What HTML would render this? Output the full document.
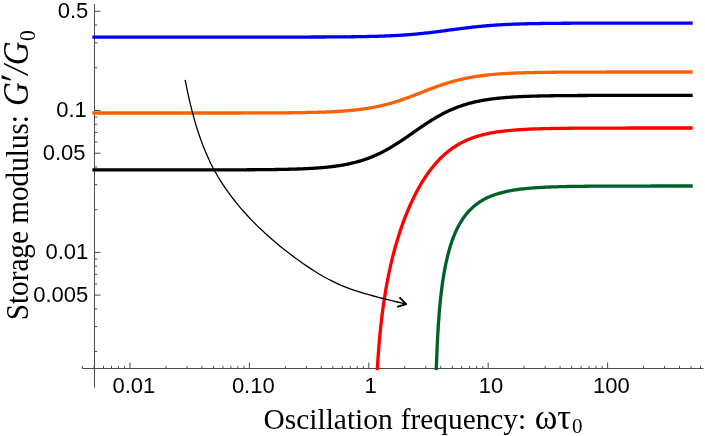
<!DOCTYPE html><html><head><meta charset="utf-8"><style>html,body{margin:0;padding:0;background:#fff}svg{display:block;will-change:transform}text{font-family:"Liberation Sans",sans-serif;fill:#000}.s{font-family:"Liberation Serif",serif}</style></head><body>
<svg width="705" height="436" viewBox="0 0 705 436">
<rect width="705" height="436" fill="#fff"/>
<g stroke="#4a4a4a" stroke-width="1" fill="none">
<line x1="82.3" y1="368.5" x2="703.4" y2="368.5"/>
<line x1="94.5" y1="4.2" x2="94.5" y2="387.7"/>
<line x1="82.49" y1="368.5" x2="82.49" y2="365.9"/>
<line x1="94.06" y1="368.5" x2="94.06" y2="365.9"/>
<line x1="103.51" y1="368.5" x2="103.51" y2="365.9"/>
<line x1="111.50" y1="368.5" x2="111.50" y2="365.9"/>
<line x1="118.43" y1="368.5" x2="118.43" y2="365.9"/>
<line x1="124.54" y1="368.5" x2="124.54" y2="365.9"/>
<line x1="130.00" y1="368.5" x2="130.00" y2="362.5"/>
<line x1="165.94" y1="368.5" x2="165.94" y2="365.9"/>
<line x1="186.97" y1="368.5" x2="186.97" y2="365.9"/>
<line x1="201.89" y1="368.5" x2="201.89" y2="365.9"/>
<line x1="213.46" y1="368.5" x2="213.46" y2="365.9"/>
<line x1="222.91" y1="368.5" x2="222.91" y2="365.9"/>
<line x1="230.90" y1="368.5" x2="230.90" y2="365.9"/>
<line x1="237.83" y1="368.5" x2="237.83" y2="365.9"/>
<line x1="243.94" y1="368.5" x2="243.94" y2="365.9"/>
<line x1="249.40" y1="368.5" x2="249.40" y2="362.5"/>
<line x1="285.34" y1="368.5" x2="285.34" y2="365.9"/>
<line x1="306.37" y1="368.5" x2="306.37" y2="365.9"/>
<line x1="321.29" y1="368.5" x2="321.29" y2="365.9"/>
<line x1="332.86" y1="368.5" x2="332.86" y2="365.9"/>
<line x1="342.31" y1="368.5" x2="342.31" y2="365.9"/>
<line x1="350.30" y1="368.5" x2="350.30" y2="365.9"/>
<line x1="357.23" y1="368.5" x2="357.23" y2="365.9"/>
<line x1="363.34" y1="368.5" x2="363.34" y2="365.9"/>
<line x1="368.80" y1="368.5" x2="368.80" y2="362.5"/>
<line x1="404.74" y1="368.5" x2="404.74" y2="365.9"/>
<line x1="425.77" y1="368.5" x2="425.77" y2="365.9"/>
<line x1="440.69" y1="368.5" x2="440.69" y2="365.9"/>
<line x1="452.26" y1="368.5" x2="452.26" y2="365.9"/>
<line x1="461.71" y1="368.5" x2="461.71" y2="365.9"/>
<line x1="469.70" y1="368.5" x2="469.70" y2="365.9"/>
<line x1="476.63" y1="368.5" x2="476.63" y2="365.9"/>
<line x1="482.74" y1="368.5" x2="482.74" y2="365.9"/>
<line x1="488.20" y1="368.5" x2="488.20" y2="362.5"/>
<line x1="524.14" y1="368.5" x2="524.14" y2="365.9"/>
<line x1="545.17" y1="368.5" x2="545.17" y2="365.9"/>
<line x1="560.09" y1="368.5" x2="560.09" y2="365.9"/>
<line x1="571.66" y1="368.5" x2="571.66" y2="365.9"/>
<line x1="581.11" y1="368.5" x2="581.11" y2="365.9"/>
<line x1="589.10" y1="368.5" x2="589.10" y2="365.9"/>
<line x1="596.03" y1="368.5" x2="596.03" y2="365.9"/>
<line x1="602.14" y1="368.5" x2="602.14" y2="365.9"/>
<line x1="607.60" y1="368.5" x2="607.60" y2="362.5"/>
<line x1="643.54" y1="368.5" x2="643.54" y2="365.9"/>
<line x1="664.57" y1="368.5" x2="664.57" y2="365.9"/>
<line x1="679.49" y1="368.5" x2="679.49" y2="365.9"/>
<line x1="691.06" y1="368.5" x2="691.06" y2="365.9"/>
<line x1="700.51" y1="368.5" x2="700.51" y2="365.9"/>
<line x1="94.5" y1="351.58" x2="97.3" y2="351.58"/>
<line x1="94.5" y1="326.60" x2="97.3" y2="326.60"/>
<line x1="94.5" y1="308.87" x2="97.3" y2="308.87"/>
<line x1="94.5" y1="295.12" x2="100.5" y2="295.12"/>
<line x1="94.5" y1="283.88" x2="97.3" y2="283.88"/>
<line x1="94.5" y1="274.38" x2="97.3" y2="274.38"/>
<line x1="94.5" y1="266.15" x2="97.3" y2="266.15"/>
<line x1="94.5" y1="258.89" x2="97.3" y2="258.89"/>
<line x1="94.5" y1="252.40" x2="100.5" y2="252.40"/>
<line x1="94.5" y1="209.68" x2="97.3" y2="209.68"/>
<line x1="94.5" y1="184.70" x2="97.3" y2="184.70"/>
<line x1="94.5" y1="166.97" x2="97.3" y2="166.97"/>
<line x1="94.5" y1="153.22" x2="100.5" y2="153.22"/>
<line x1="94.5" y1="141.98" x2="97.3" y2="141.98"/>
<line x1="94.5" y1="132.48" x2="97.3" y2="132.48"/>
<line x1="94.5" y1="124.25" x2="97.3" y2="124.25"/>
<line x1="94.5" y1="116.99" x2="97.3" y2="116.99"/>
<line x1="94.5" y1="110.50" x2="100.5" y2="110.50"/>
<line x1="94.5" y1="67.78" x2="97.3" y2="67.78"/>
<line x1="94.5" y1="42.80" x2="97.3" y2="42.80"/>
<line x1="94.5" y1="25.07" x2="97.3" y2="25.07"/>
<line x1="94.5" y1="11.32" x2="100.5" y2="11.32"/>
</g>
<path d="M94.06,37.09 L95.05,37.09 L96.05,37.09 L97.04,37.09 L98.04,37.09 L99.03,37.09 L100.03,37.09 L101.02,37.09 L102.02,37.09 L103.01,37.09 L104.01,37.09 L105.00,37.09 L106.00,37.09 L106.99,37.09 L107.99,37.09 L108.98,37.09 L109.98,37.09 L110.97,37.09 L111.97,37.09 L112.96,37.09 L113.96,37.09 L114.95,37.09 L115.95,37.09 L116.94,37.09 L117.94,37.09 L118.93,37.09 L119.93,37.09 L120.92,37.09 L121.92,37.09 L122.91,37.09 L123.91,37.09 L124.90,37.09 L125.90,37.09 L126.89,37.09 L127.89,37.09 L128.88,37.09 L129.88,37.09 L130.87,37.09 L131.87,37.09 L132.86,37.09 L133.86,37.09 L134.85,37.09 L135.85,37.09 L136.84,37.09 L137.84,37.09 L138.83,37.09 L139.83,37.09 L140.82,37.09 L141.82,37.09 L142.81,37.09 L143.81,37.09 L144.80,37.09 L145.80,37.09 L146.79,37.09 L147.79,37.09 L148.78,37.09 L149.78,37.09 L150.77,37.09 L151.77,37.09 L152.76,37.09 L153.76,37.09 L154.75,37.09 L155.75,37.09 L156.74,37.09 L157.74,37.09 L158.73,37.09 L159.73,37.09 L160.72,37.09 L161.72,37.09 L162.71,37.09 L163.71,37.09 L164.70,37.09 L165.70,37.09 L166.69,37.09 L167.69,37.09 L168.68,37.09 L169.68,37.09 L170.67,37.09 L171.67,37.09 L172.66,37.09 L173.66,37.09 L174.65,37.09 L175.65,37.09 L176.64,37.09 L177.64,37.09 L178.63,37.09 L179.63,37.09 L180.62,37.09 L181.62,37.09 L182.61,37.09 L183.61,37.09 L184.60,37.09 L185.60,37.09 L186.59,37.09 L187.59,37.09 L188.58,37.09 L189.58,37.09 L190.57,37.09 L191.57,37.09 L192.56,37.09 L193.56,37.09 L194.55,37.09 L195.55,37.09 L196.54,37.09 L197.54,37.09 L198.53,37.09 L199.53,37.09 L200.52,37.09 L201.52,37.09 L202.51,37.09 L203.51,37.09 L204.50,37.09 L205.50,37.09 L206.49,37.09 L207.49,37.09 L208.48,37.09 L209.48,37.09 L210.47,37.09 L211.47,37.09 L212.46,37.09 L213.46,37.09 L214.45,37.09 L215.45,37.09 L216.44,37.09 L217.44,37.09 L218.43,37.09 L219.43,37.09 L220.42,37.09 L221.42,37.09 L222.41,37.09 L223.41,37.09 L224.40,37.09 L225.40,37.09 L226.39,37.09 L227.39,37.09 L228.38,37.09 L229.38,37.09 L230.37,37.09 L231.37,37.09 L232.36,37.09 L233.36,37.09 L234.35,37.09 L235.35,37.09 L236.34,37.09 L237.34,37.09 L238.33,37.09 L239.33,37.09 L240.32,37.09 L241.32,37.09 L242.31,37.09 L243.31,37.09 L244.30,37.09 L245.30,37.09 L246.29,37.09 L247.29,37.09 L248.28,37.09 L249.28,37.08 L250.27,37.08 L251.27,37.08 L252.26,37.08 L253.26,37.08 L254.25,37.08 L255.25,37.08 L256.24,37.08 L257.24,37.08 L258.23,37.08 L259.23,37.08 L260.22,37.08 L261.22,37.08 L262.21,37.08 L263.21,37.08 L264.20,37.08 L265.20,37.08 L266.19,37.08 L267.19,37.08 L268.18,37.08 L269.18,37.08 L270.17,37.08 L271.17,37.08 L272.16,37.08 L273.16,37.08 L274.15,37.07 L275.15,37.07 L276.14,37.07 L277.14,37.07 L278.13,37.07 L279.13,37.07 L280.12,37.07 L281.12,37.07 L282.11,37.07 L283.11,37.07 L284.10,37.07 L285.10,37.07 L286.09,37.07 L287.09,37.06 L288.08,37.06 L289.08,37.06 L290.07,37.06 L291.07,37.06 L292.06,37.06 L293.06,37.06 L294.05,37.06 L295.05,37.05 L296.04,37.05 L297.04,37.05 L298.03,37.05 L299.03,37.05 L300.02,37.05 L301.02,37.05 L302.01,37.04 L303.01,37.04 L304.00,37.04 L305.00,37.04 L305.99,37.04 L306.99,37.03 L307.98,37.03 L308.98,37.03 L309.97,37.03 L310.97,37.02 L311.96,37.02 L312.96,37.02 L313.95,37.02 L314.95,37.01 L315.94,37.01 L316.94,37.01 L317.93,37.00 L318.93,37.00 L319.92,37.00 L320.92,36.99 L321.91,36.99 L322.91,36.98 L323.90,36.98 L324.90,36.98 L325.89,36.97 L326.89,36.97 L327.88,36.96 L328.88,36.96 L329.87,36.95 L330.87,36.95 L331.86,36.94 L332.86,36.94 L333.85,36.93 L334.85,36.92 L335.84,36.92 L336.84,36.91 L337.83,36.90 L338.83,36.90 L339.82,36.89 L340.82,36.88 L341.81,36.87 L342.81,36.86 L343.80,36.86 L344.80,36.85 L345.79,36.84 L346.79,36.83 L347.78,36.82 L348.78,36.81 L349.77,36.80 L350.77,36.78 L351.76,36.77 L352.76,36.76 L353.75,36.75 L354.75,36.74 L355.74,36.72 L356.74,36.71 L357.73,36.69 L358.73,36.68 L359.72,36.66 L360.72,36.65 L361.71,36.63 L362.71,36.61 L363.70,36.59 L364.70,36.57 L365.69,36.56 L366.69,36.54 L367.68,36.51 L368.68,36.49 L369.67,36.47 L370.67,36.45 L371.66,36.42 L372.66,36.40 L373.65,36.37 L374.65,36.35 L375.64,36.32 L376.64,36.29 L377.63,36.26 L378.63,36.23 L379.62,36.20 L380.62,36.17 L381.61,36.13 L382.61,36.10 L383.60,36.06 L384.60,36.02 L385.59,35.99 L386.59,35.95 L387.58,35.90 L388.58,35.86 L389.57,35.82 L390.57,35.77 L391.56,35.73 L392.56,35.68 L393.55,35.63 L394.55,35.58 L395.54,35.53 L396.54,35.47 L397.53,35.42 L398.53,35.36 L399.52,35.30 L400.52,35.24 L401.51,35.18 L402.51,35.11 L403.50,35.05 L404.50,34.98 L405.49,34.91 L406.49,34.84 L407.48,34.76 L408.48,34.69 L409.47,34.61 L410.47,34.53 L411.46,34.45 L412.46,34.37 L413.45,34.28 L414.45,34.20 L415.44,34.11 L416.44,34.02 L417.43,33.92 L418.43,33.83 L419.42,33.73 L420.42,33.63 L421.41,33.53 L422.41,33.43 L423.40,33.32 L424.40,33.22 L425.39,33.11 L426.39,33.00 L427.38,32.89 L428.38,32.77 L429.37,32.66 L430.37,32.54 L431.36,32.42 L432.36,32.30 L433.35,32.18 L434.35,32.06 L435.34,31.93 L436.34,31.81 L437.33,31.68 L438.33,31.55 L439.32,31.42 L440.32,31.29 L441.31,31.16 L442.31,31.03 L443.30,30.90 L444.30,30.77 L445.29,30.63 L446.29,30.50 L447.28,30.37 L448.28,30.23 L449.27,30.10 L450.27,29.97 L451.26,29.83 L452.26,29.70 L453.25,29.56 L454.25,29.43 L455.24,29.30 L456.24,29.17 L457.23,29.03 L458.23,28.90 L459.22,28.77 L460.22,28.65 L461.21,28.52 L462.21,28.39 L463.20,28.27 L464.20,28.14 L465.19,28.02 L466.19,27.90 L467.18,27.78 L468.18,27.66 L469.17,27.54 L470.17,27.42 L471.16,27.31 L472.16,27.20 L473.15,27.09 L474.15,26.98 L475.14,26.87 L476.14,26.77 L477.13,26.67 L478.13,26.56 L479.12,26.47 L480.12,26.37 L481.11,26.27 L482.11,26.18 L483.10,26.09 L484.10,26.00 L485.09,25.91 L486.09,25.83 L487.08,25.74 L488.08,25.66 L489.07,25.58 L490.07,25.51 L491.06,25.43 L492.06,25.36 L493.05,25.28 L494.05,25.22 L495.04,25.15 L496.04,25.08 L497.03,25.02 L498.03,24.95 L499.02,24.89 L500.02,24.83 L501.01,24.78 L502.01,24.72 L503.00,24.67 L504.00,24.61 L504.99,24.56 L505.99,24.51 L506.98,24.46 L507.98,24.42 L508.97,24.37 L509.97,24.33 L510.96,24.29 L511.96,24.25 L512.95,24.21 L513.95,24.17 L514.94,24.13 L515.94,24.09 L516.93,24.06 L517.93,24.02 L518.92,23.99 L519.92,23.96 L520.91,23.93 L521.91,23.90 L522.90,23.87 L523.90,23.84 L524.89,23.82 L525.89,23.79 L526.88,23.77 L527.88,23.74 L528.87,23.72 L529.87,23.70 L530.86,23.68 L531.86,23.65 L532.85,23.63 L533.85,23.61 L534.84,23.60 L535.84,23.58 L536.83,23.56 L537.83,23.54 L538.82,23.53 L539.82,23.51 L540.81,23.50 L541.81,23.48 L542.80,23.47 L543.80,23.45 L544.79,23.44 L545.79,23.43 L546.78,23.42 L547.78,23.40 L548.77,23.39 L549.77,23.38 L550.76,23.37 L551.76,23.36 L552.75,23.35 L553.75,23.34 L554.74,23.33 L555.74,23.32 L556.73,23.32 L557.73,23.31 L558.72,23.30 L559.72,23.29 L560.71,23.29 L561.71,23.28 L562.70,23.27 L563.70,23.26 L564.69,23.26 L565.69,23.25 L566.68,23.25 L567.68,23.24 L568.67,23.24 L569.67,23.23 L570.66,23.23 L571.66,23.22 L572.65,23.22 L573.65,23.21 L574.64,23.21 L575.64,23.20 L576.63,23.20 L577.63,23.20 L578.62,23.19 L579.62,23.19 L580.61,23.18 L581.61,23.18 L582.60,23.18 L583.60,23.18 L584.59,23.17 L585.59,23.17 L586.58,23.17 L587.58,23.16 L588.57,23.16 L589.57,23.16 L590.56,23.16 L591.56,23.15 L592.55,23.15 L593.55,23.15 L594.54,23.15 L595.54,23.15 L596.53,23.14 L597.53,23.14 L598.52,23.14 L599.52,23.14 L600.51,23.14 L601.51,23.14 L602.50,23.13 L603.50,23.13 L604.49,23.13 L605.49,23.13 L606.48,23.13 L607.48,23.13 L608.47,23.13 L609.47,23.13 L610.46,23.12 L611.46,23.12 L612.45,23.12 L613.45,23.12 L614.44,23.12 L615.44,23.12 L616.43,23.12 L617.43,23.12 L618.42,23.12 L619.42,23.12 L620.41,23.12 L621.41,23.12 L622.40,23.11 L623.40,23.11 L624.39,23.11 L625.39,23.11 L626.38,23.11 L627.38,23.11 L628.37,23.11 L629.37,23.11 L630.36,23.11 L631.36,23.11 L632.35,23.11 L633.35,23.11 L634.34,23.11 L635.34,23.11 L636.33,23.11 L637.33,23.11 L638.32,23.11 L639.32,23.11 L640.31,23.11 L641.31,23.11 L642.30,23.10 L643.30,23.10 L644.29,23.10 L645.29,23.10 L646.28,23.10 L647.28,23.10 L648.27,23.10 L649.27,23.10 L650.26,23.10 L651.26,23.10 L652.25,23.10 L653.25,23.10 L654.24,23.10 L655.24,23.10 L656.23,23.10 L657.23,23.10 L658.22,23.10 L659.22,23.10 L660.21,23.10 L661.21,23.10 L662.20,23.10 L663.20,23.10 L664.19,23.10 L665.19,23.10 L666.18,23.10 L667.18,23.10 L668.17,23.10 L669.17,23.10 L670.16,23.10 L671.16,23.10 L672.15,23.10 L673.15,23.10 L674.14,23.10 L675.14,23.10 L676.13,23.10 L677.13,23.10 L678.12,23.10 L679.12,23.10 L680.11,23.10 L681.11,23.10 L682.10,23.10 L683.10,23.10 L684.09,23.10 L685.09,23.10 L686.08,23.10 L687.08,23.10 L688.07,23.10 L689.07,23.10 L690.06,23.10 L691.06,23.10" fill="none" stroke="#0000fa" stroke-width="3.3" stroke-linejoin="round" stroke-linecap="square"/>
<path d="M94.06,113.02 L95.05,113.02 L96.05,113.02 L97.04,113.02 L98.04,113.02 L99.03,113.02 L100.03,113.02 L101.02,113.02 L102.02,113.02 L103.01,113.02 L104.01,113.02 L105.00,113.02 L106.00,113.02 L106.99,113.02 L107.99,113.02 L108.98,113.02 L109.98,113.02 L110.97,113.02 L111.97,113.02 L112.96,113.02 L113.96,113.02 L114.95,113.02 L115.95,113.02 L116.94,113.02 L117.94,113.02 L118.93,113.02 L119.93,113.02 L120.92,113.02 L121.92,113.02 L122.91,113.02 L123.91,113.02 L124.90,113.02 L125.90,113.02 L126.89,113.02 L127.89,113.02 L128.88,113.02 L129.88,113.02 L130.87,113.02 L131.87,113.02 L132.86,113.02 L133.86,113.02 L134.85,113.02 L135.85,113.02 L136.84,113.01 L137.84,113.01 L138.83,113.01 L139.83,113.01 L140.82,113.01 L141.82,113.01 L142.81,113.01 L143.81,113.01 L144.80,113.01 L145.80,113.01 L146.79,113.01 L147.79,113.01 L148.78,113.01 L149.78,113.01 L150.77,113.01 L151.77,113.01 L152.76,113.01 L153.76,113.01 L154.75,113.01 L155.75,113.01 L156.74,113.01 L157.74,113.01 L158.73,113.01 L159.73,113.01 L160.72,113.01 L161.72,113.01 L162.71,113.01 L163.71,113.01 L164.70,113.01 L165.70,113.01 L166.69,113.01 L167.69,113.01 L168.68,113.01 L169.68,113.01 L170.67,113.01 L171.67,113.01 L172.66,113.01 L173.66,113.01 L174.65,113.01 L175.65,113.01 L176.64,113.01 L177.64,113.01 L178.63,113.01 L179.63,113.01 L180.62,113.01 L181.62,113.01 L182.61,113.01 L183.61,113.01 L184.60,113.01 L185.60,113.01 L186.59,113.01 L187.59,113.01 L188.58,113.01 L189.58,113.01 L190.57,113.01 L191.57,113.01 L192.56,113.01 L193.56,113.01 L194.55,113.01 L195.55,113.01 L196.54,113.01 L197.54,113.01 L198.53,113.01 L199.53,113.01 L200.52,113.01 L201.52,113.01 L202.51,113.01 L203.51,113.01 L204.50,113.01 L205.50,113.01 L206.49,113.01 L207.49,113.00 L208.48,113.00 L209.48,113.00 L210.47,113.00 L211.47,113.00 L212.46,113.00 L213.46,113.00 L214.45,113.00 L215.45,113.00 L216.44,113.00 L217.44,113.00 L218.43,113.00 L219.43,113.00 L220.42,113.00 L221.42,113.00 L222.41,113.00 L223.41,113.00 L224.40,112.99 L225.40,112.99 L226.39,112.99 L227.39,112.99 L228.38,112.99 L229.38,112.99 L230.37,112.99 L231.37,112.99 L232.36,112.99 L233.36,112.99 L234.35,112.98 L235.35,112.98 L236.34,112.98 L237.34,112.98 L238.33,112.98 L239.33,112.98 L240.32,112.98 L241.32,112.98 L242.31,112.97 L243.31,112.97 L244.30,112.97 L245.30,112.97 L246.29,112.97 L247.29,112.96 L248.28,112.96 L249.28,112.96 L250.27,112.96 L251.27,112.96 L252.26,112.95 L253.26,112.95 L254.25,112.95 L255.25,112.95 L256.24,112.94 L257.24,112.94 L258.23,112.94 L259.23,112.94 L260.22,112.93 L261.22,112.93 L262.21,112.93 L263.21,112.92 L264.20,112.92 L265.20,112.91 L266.19,112.91 L267.19,112.91 L268.18,112.90 L269.18,112.90 L270.17,112.89 L271.17,112.89 L272.16,112.88 L273.16,112.88 L274.15,112.87 L275.15,112.87 L276.14,112.86 L277.14,112.86 L278.13,112.85 L279.13,112.84 L280.12,112.84 L281.12,112.83 L282.11,112.82 L283.11,112.81 L284.10,112.81 L285.10,112.80 L286.09,112.79 L287.09,112.78 L288.08,112.77 L289.08,112.76 L290.07,112.75 L291.07,112.74 L292.06,112.73 L293.06,112.72 L294.05,112.71 L295.05,112.70 L296.04,112.69 L297.04,112.67 L298.03,112.66 L299.03,112.65 L300.02,112.63 L301.02,112.62 L302.01,112.60 L303.01,112.58 L304.00,112.57 L305.00,112.55 L305.99,112.53 L306.99,112.51 L307.98,112.49 L308.98,112.47 L309.97,112.45 L310.97,112.43 L311.96,112.41 L312.96,112.39 L313.95,112.36 L314.95,112.34 L315.94,112.31 L316.94,112.28 L317.93,112.25 L318.93,112.23 L319.92,112.20 L320.92,112.16 L321.91,112.13 L322.91,112.10 L323.90,112.06 L324.90,112.03 L325.89,111.99 L326.89,111.95 L327.88,111.91 L328.88,111.87 L329.87,111.82 L330.87,111.78 L331.86,111.73 L332.86,111.68 L333.85,111.63 L334.85,111.58 L335.84,111.53 L336.84,111.47 L337.83,111.41 L338.83,111.35 L339.82,111.29 L340.82,111.23 L341.81,111.16 L342.81,111.09 L343.80,111.02 L344.80,110.94 L345.79,110.87 L346.79,110.79 L347.78,110.71 L348.78,110.62 L349.77,110.53 L350.77,110.44 L351.76,110.35 L352.76,110.25 L353.75,110.15 L354.75,110.05 L355.74,109.94 L356.74,109.83 L357.73,109.71 L358.73,109.60 L359.72,109.47 L360.72,109.35 L361.71,109.22 L362.71,109.08 L363.70,108.95 L364.70,108.80 L365.69,108.66 L366.69,108.51 L367.68,108.35 L368.68,108.19 L369.67,108.03 L370.67,107.86 L371.66,107.68 L372.66,107.50 L373.65,107.32 L374.65,107.13 L375.64,106.93 L376.64,106.73 L377.63,106.52 L378.63,106.31 L379.62,106.09 L380.62,105.87 L381.61,105.64 L382.61,105.41 L383.60,105.17 L384.60,104.93 L385.59,104.68 L386.59,104.42 L387.58,104.16 L388.58,103.89 L389.57,103.62 L390.57,103.34 L391.56,103.05 L392.56,102.76 L393.55,102.47 L394.55,102.17 L395.54,101.86 L396.54,101.55 L397.53,101.23 L398.53,100.91 L399.52,100.58 L400.52,100.25 L401.51,99.91 L402.51,99.57 L403.50,99.22 L404.50,98.87 L405.49,98.52 L406.49,98.16 L407.48,97.79 L408.48,97.43 L409.47,97.06 L410.47,96.69 L411.46,96.31 L412.46,95.93 L413.45,95.55 L414.45,95.17 L415.44,94.79 L416.44,94.40 L417.43,94.01 L418.43,93.62 L419.42,93.24 L420.42,92.85 L421.41,92.46 L422.41,92.07 L423.40,91.68 L424.40,91.29 L425.39,90.90 L426.39,90.51 L427.38,90.13 L428.38,89.74 L429.37,89.36 L430.37,88.98 L431.36,88.60 L432.36,88.23 L433.35,87.86 L434.35,87.49 L435.34,87.12 L436.34,86.76 L437.33,86.40 L438.33,86.05 L439.32,85.70 L440.32,85.36 L441.31,85.01 L442.31,84.68 L443.30,84.35 L444.30,84.02 L445.29,83.70 L446.29,83.38 L447.28,83.07 L448.28,82.77 L449.27,82.47 L450.27,82.17 L451.26,81.88 L452.26,81.60 L453.25,81.32 L454.25,81.05 L455.24,80.78 L456.24,80.52 L457.23,80.27 L458.23,80.02 L459.22,79.78 L460.22,79.54 L461.21,79.31 L462.21,79.08 L463.20,78.86 L464.20,78.64 L465.19,78.43 L466.19,78.23 L467.18,78.03 L468.18,77.83 L469.17,77.65 L470.17,77.46 L471.16,77.28 L472.16,77.11 L473.15,76.94 L474.15,76.78 L475.14,76.62 L476.14,76.46 L477.13,76.31 L478.13,76.17 L479.12,76.03 L480.12,75.89 L481.11,75.76 L482.11,75.63 L483.10,75.50 L484.10,75.38 L485.09,75.26 L486.09,75.15 L487.08,75.04 L488.08,74.93 L489.07,74.83 L490.07,74.73 L491.06,74.64 L492.06,74.54 L493.05,74.45 L494.05,74.37 L495.04,74.28 L496.04,74.20 L497.03,74.12 L498.03,74.05 L499.02,73.97 L500.02,73.90 L501.01,73.83 L502.01,73.77 L503.00,73.70 L504.00,73.64 L504.99,73.58 L505.99,73.52 L506.98,73.47 L507.98,73.41 L508.97,73.36 L509.97,73.31 L510.96,73.26 L511.96,73.22 L512.95,73.17 L513.95,73.13 L514.94,73.09 L515.94,73.05 L516.93,73.01 L517.93,72.97 L518.92,72.94 L519.92,72.90 L520.91,72.87 L521.91,72.84 L522.90,72.80 L523.90,72.77 L524.89,72.75 L525.89,72.72 L526.88,72.69 L527.88,72.66 L528.87,72.64 L529.87,72.62 L530.86,72.59 L531.86,72.57 L532.85,72.55 L533.85,72.53 L534.84,72.51 L535.84,72.49 L536.83,72.47 L537.83,72.45 L538.82,72.44 L539.82,72.42 L540.81,72.40 L541.81,72.39 L542.80,72.37 L543.80,72.36 L544.79,72.35 L545.79,72.33 L546.78,72.32 L547.78,72.31 L548.77,72.30 L549.77,72.28 L550.76,72.27 L551.76,72.26 L552.75,72.25 L553.75,72.24 L554.74,72.23 L555.74,72.22 L556.73,72.22 L557.73,72.21 L558.72,72.20 L559.72,72.19 L560.71,72.18 L561.71,72.18 L562.70,72.17 L563.70,72.16 L564.69,72.16 L565.69,72.15 L566.68,72.14 L567.68,72.14 L568.67,72.13 L569.67,72.13 L570.66,72.12 L571.66,72.12 L572.65,72.11 L573.65,72.11 L574.64,72.10 L575.64,72.10 L576.63,72.10 L577.63,72.09 L578.62,72.09 L579.62,72.08 L580.61,72.08 L581.61,72.08 L582.60,72.07 L583.60,72.07 L584.59,72.07 L585.59,72.07 L586.58,72.06 L587.58,72.06 L588.57,72.06 L589.57,72.05 L590.56,72.05 L591.56,72.05 L592.55,72.05 L593.55,72.05 L594.54,72.04 L595.54,72.04 L596.53,72.04 L597.53,72.04 L598.52,72.04 L599.52,72.03 L600.51,72.03 L601.51,72.03 L602.50,72.03 L603.50,72.03 L604.49,72.03 L605.49,72.03 L606.48,72.02 L607.48,72.02 L608.47,72.02 L609.47,72.02 L610.46,72.02 L611.46,72.02 L612.45,72.02 L613.45,72.02 L614.44,72.02 L615.44,72.01 L616.43,72.01 L617.43,72.01 L618.42,72.01 L619.42,72.01 L620.41,72.01 L621.41,72.01 L622.40,72.01 L623.40,72.01 L624.39,72.01 L625.39,72.01 L626.38,72.01 L627.38,72.01 L628.37,72.01 L629.37,72.01 L630.36,72.00 L631.36,72.00 L632.35,72.00 L633.35,72.00 L634.34,72.00 L635.34,72.00 L636.33,72.00 L637.33,72.00 L638.32,72.00 L639.32,72.00 L640.31,72.00 L641.31,72.00 L642.30,72.00 L643.30,72.00 L644.29,72.00 L645.29,72.00 L646.28,72.00 L647.28,72.00 L648.27,72.00 L649.27,72.00 L650.26,72.00 L651.26,72.00 L652.25,72.00 L653.25,72.00 L654.24,72.00 L655.24,72.00 L656.23,72.00 L657.23,72.00 L658.22,72.00 L659.22,72.00 L660.21,72.00 L661.21,72.00 L662.20,72.00 L663.20,72.00 L664.19,72.00 L665.19,72.00 L666.18,71.99 L667.18,71.99 L668.17,71.99 L669.17,71.99 L670.16,71.99 L671.16,71.99 L672.15,71.99 L673.15,71.99 L674.14,71.99 L675.14,71.99 L676.13,71.99 L677.13,71.99 L678.12,71.99 L679.12,71.99 L680.11,71.99 L681.11,71.99 L682.10,71.99 L683.10,71.99 L684.09,71.99 L685.09,71.99 L686.08,71.99 L687.08,71.99 L688.07,71.99 L689.07,71.99 L690.06,71.99 L691.06,71.99" fill="none" stroke="#ff6000" stroke-width="3.3" stroke-linejoin="round" stroke-linecap="square"/>
<path d="M94.06,169.90 L95.05,169.90 L96.05,169.90 L97.04,169.90 L98.04,169.90 L99.03,169.90 L100.03,169.90 L101.02,169.90 L102.02,169.90 L103.01,169.90 L104.01,169.90 L105.00,169.90 L106.00,169.90 L106.99,169.90 L107.99,169.90 L108.98,169.90 L109.98,169.90 L110.97,169.90 L111.97,169.90 L112.96,169.90 L113.96,169.90 L114.95,169.90 L115.95,169.90 L116.94,169.90 L117.94,169.90 L118.93,169.90 L119.93,169.90 L120.92,169.90 L121.92,169.90 L122.91,169.90 L123.91,169.90 L124.90,169.90 L125.90,169.90 L126.89,169.90 L127.89,169.90 L128.88,169.90 L129.88,169.90 L130.87,169.90 L131.87,169.90 L132.86,169.90 L133.86,169.90 L134.85,169.90 L135.85,169.90 L136.84,169.90 L137.84,169.90 L138.83,169.90 L139.83,169.90 L140.82,169.90 L141.82,169.90 L142.81,169.90 L143.81,169.90 L144.80,169.90 L145.80,169.90 L146.79,169.90 L147.79,169.90 L148.78,169.90 L149.78,169.90 L150.77,169.90 L151.77,169.90 L152.76,169.90 L153.76,169.90 L154.75,169.90 L155.75,169.90 L156.74,169.90 L157.74,169.90 L158.73,169.90 L159.73,169.90 L160.72,169.90 L161.72,169.90 L162.71,169.90 L163.71,169.90 L164.70,169.90 L165.70,169.90 L166.69,169.90 L167.69,169.90 L168.68,169.90 L169.68,169.90 L170.67,169.90 L171.67,169.89 L172.66,169.89 L173.66,169.89 L174.65,169.89 L175.65,169.89 L176.64,169.89 L177.64,169.89 L178.63,169.89 L179.63,169.89 L180.62,169.89 L181.62,169.89 L182.61,169.89 L183.61,169.89 L184.60,169.89 L185.60,169.89 L186.59,169.89 L187.59,169.89 L188.58,169.89 L189.58,169.89 L190.57,169.89 L191.57,169.89 L192.56,169.89 L193.56,169.89 L194.55,169.88 L195.55,169.88 L196.54,169.88 L197.54,169.88 L198.53,169.88 L199.53,169.88 L200.52,169.88 L201.52,169.88 L202.51,169.88 L203.51,169.88 L204.50,169.88 L205.50,169.88 L206.49,169.87 L207.49,169.87 L208.48,169.87 L209.48,169.87 L210.47,169.87 L211.47,169.87 L212.46,169.87 L213.46,169.87 L214.45,169.86 L215.45,169.86 L216.44,169.86 L217.44,169.86 L218.43,169.86 L219.43,169.86 L220.42,169.86 L221.42,169.85 L222.41,169.85 L223.41,169.85 L224.40,169.85 L225.40,169.85 L226.39,169.84 L227.39,169.84 L228.38,169.84 L229.38,169.84 L230.37,169.83 L231.37,169.83 L232.36,169.83 L233.36,169.83 L234.35,169.82 L235.35,169.82 L236.34,169.82 L237.34,169.81 L238.33,169.81 L239.33,169.81 L240.32,169.80 L241.32,169.80 L242.31,169.79 L243.31,169.79 L244.30,169.78 L245.30,169.78 L246.29,169.78 L247.29,169.77 L248.28,169.77 L249.28,169.76 L250.27,169.75 L251.27,169.75 L252.26,169.74 L253.26,169.74 L254.25,169.73 L255.25,169.72 L256.24,169.72 L257.24,169.71 L258.23,169.70 L259.23,169.69 L260.22,169.69 L261.22,169.68 L262.21,169.67 L263.21,169.66 L264.20,169.65 L265.20,169.64 L266.19,169.63 L267.19,169.62 L268.18,169.61 L269.18,169.60 L270.17,169.58 L271.17,169.57 L272.16,169.56 L273.16,169.55 L274.15,169.53 L275.15,169.52 L276.14,169.50 L277.14,169.49 L278.13,169.47 L279.13,169.45 L280.12,169.44 L281.12,169.42 L282.11,169.40 L283.11,169.38 L284.10,169.36 L285.10,169.34 L286.09,169.32 L287.09,169.29 L288.08,169.27 L289.08,169.25 L290.07,169.22 L291.07,169.20 L292.06,169.17 L293.06,169.14 L294.05,169.11 L295.05,169.08 L296.04,169.05 L297.04,169.01 L298.03,168.98 L299.03,168.94 L300.02,168.91 L301.02,168.87 L302.01,168.83 L303.01,168.79 L304.00,168.75 L305.00,168.70 L305.99,168.66 L306.99,168.61 L307.98,168.56 L308.98,168.51 L309.97,168.45 L310.97,168.40 L311.96,168.34 L312.96,168.28 L313.95,168.22 L314.95,168.15 L315.94,168.09 L316.94,168.02 L317.93,167.95 L318.93,167.87 L319.92,167.80 L320.92,167.72 L321.91,167.63 L322.91,167.55 L323.90,167.46 L324.90,167.37 L325.89,167.27 L326.89,167.17 L327.88,167.07 L328.88,166.97 L329.87,166.86 L330.87,166.74 L331.86,166.62 L332.86,166.50 L333.85,166.38 L334.85,166.25 L335.84,166.11 L336.84,165.97 L337.83,165.83 L338.83,165.68 L339.82,165.52 L340.82,165.36 L341.81,165.20 L342.81,165.03 L343.80,164.85 L344.80,164.67 L345.79,164.48 L346.79,164.29 L347.78,164.08 L348.78,163.88 L349.77,163.66 L350.77,163.44 L351.76,163.21 L352.76,162.98 L353.75,162.74 L354.75,162.49 L355.74,162.23 L356.74,161.97 L357.73,161.69 L358.73,161.41 L359.72,161.12 L360.72,160.82 L361.71,160.52 L362.71,160.20 L363.70,159.88 L364.70,159.55 L365.69,159.20 L366.69,158.85 L367.68,158.49 L368.68,158.12 L369.67,157.74 L370.67,157.35 L371.66,156.96 L372.66,156.55 L373.65,156.13 L374.65,155.70 L375.64,155.26 L376.64,154.81 L377.63,154.36 L378.63,153.89 L379.62,153.41 L380.62,152.92 L381.61,152.43 L382.61,151.92 L383.60,151.40 L384.60,150.87 L385.59,150.34 L386.59,149.79 L387.58,149.24 L388.58,148.67 L389.57,148.10 L390.57,147.52 L391.56,146.93 L392.56,146.33 L393.55,145.72 L394.55,145.11 L395.54,144.49 L396.54,143.86 L397.53,143.22 L398.53,142.58 L399.52,141.93 L400.52,141.27 L401.51,140.61 L402.51,139.95 L403.50,139.28 L404.50,138.60 L405.49,137.92 L406.49,137.24 L407.48,136.56 L408.48,135.87 L409.47,135.18 L410.47,134.49 L411.46,133.79 L412.46,133.10 L413.45,132.41 L414.45,131.71 L415.44,131.02 L416.44,130.33 L417.43,129.64 L418.43,128.95 L419.42,128.26 L420.42,127.58 L421.41,126.90 L422.41,126.22 L423.40,125.55 L424.40,124.89 L425.39,124.22 L426.39,123.57 L427.38,122.92 L428.38,122.27 L429.37,121.63 L430.37,121.00 L431.36,120.38 L432.36,119.76 L433.35,119.15 L434.35,118.55 L435.34,117.96 L436.34,117.37 L437.33,116.80 L438.33,116.23 L439.32,115.67 L440.32,115.12 L441.31,114.58 L442.31,114.05 L443.30,113.53 L444.30,113.02 L445.29,112.52 L446.29,112.03 L447.28,111.55 L448.28,111.08 L449.27,110.62 L450.27,110.17 L451.26,109.72 L452.26,109.29 L453.25,108.87 L454.25,108.46 L455.24,108.06 L456.24,107.67 L457.23,107.28 L458.23,106.91 L459.22,106.55 L460.22,106.19 L461.21,105.85 L462.21,105.51 L463.20,105.19 L464.20,104.87 L465.19,104.56 L466.19,104.26 L467.18,103.97 L468.18,103.68 L469.17,103.41 L470.17,103.14 L471.16,102.88 L472.16,102.63 L473.15,102.38 L474.15,102.15 L475.14,101.92 L476.14,101.69 L477.13,101.48 L478.13,101.27 L479.12,101.06 L480.12,100.87 L481.11,100.68 L482.11,100.49 L483.10,100.31 L484.10,100.14 L485.09,99.97 L486.09,99.81 L487.08,99.66 L488.08,99.51 L489.07,99.36 L490.07,99.22 L491.06,99.08 L492.06,98.95 L493.05,98.82 L494.05,98.70 L495.04,98.58 L496.04,98.47 L497.03,98.36 L498.03,98.25 L499.02,98.14 L500.02,98.04 L501.01,97.95 L502.01,97.86 L503.00,97.77 L504.00,97.68 L504.99,97.60 L505.99,97.51 L506.98,97.44 L507.98,97.36 L508.97,97.29 L509.97,97.22 L510.96,97.15 L511.96,97.09 L512.95,97.02 L513.95,96.96 L514.94,96.91 L515.94,96.85 L516.93,96.80 L517.93,96.74 L518.92,96.69 L519.92,96.65 L520.91,96.60 L521.91,96.55 L522.90,96.51 L523.90,96.47 L524.89,96.43 L525.89,96.39 L526.88,96.35 L527.88,96.32 L528.87,96.28 L529.87,96.25 L530.86,96.22 L531.86,96.19 L532.85,96.16 L533.85,96.13 L534.84,96.10 L535.84,96.07 L536.83,96.05 L537.83,96.02 L538.82,96.00 L539.82,95.98 L540.81,95.95 L541.81,95.93 L542.80,95.91 L543.80,95.89 L544.79,95.87 L545.79,95.85 L546.78,95.84 L547.78,95.82 L548.77,95.80 L549.77,95.79 L550.76,95.77 L551.76,95.76 L552.75,95.74 L553.75,95.73 L554.74,95.72 L555.74,95.70 L556.73,95.69 L557.73,95.68 L558.72,95.67 L559.72,95.66 L560.71,95.65 L561.71,95.64 L562.70,95.63 L563.70,95.62 L564.69,95.61 L565.69,95.60 L566.68,95.59 L567.68,95.59 L568.67,95.58 L569.67,95.57 L570.66,95.56 L571.66,95.56 L572.65,95.55 L573.65,95.54 L574.64,95.54 L575.64,95.53 L576.63,95.53 L577.63,95.52 L578.62,95.52 L579.62,95.51 L580.61,95.51 L581.61,95.50 L582.60,95.50 L583.60,95.49 L584.59,95.49 L585.59,95.49 L586.58,95.48 L587.58,95.48 L588.57,95.47 L589.57,95.47 L590.56,95.47 L591.56,95.46 L592.55,95.46 L593.55,95.46 L594.54,95.46 L595.54,95.45 L596.53,95.45 L597.53,95.45 L598.52,95.45 L599.52,95.44 L600.51,95.44 L601.51,95.44 L602.50,95.44 L603.50,95.43 L604.49,95.43 L605.49,95.43 L606.48,95.43 L607.48,95.43 L608.47,95.43 L609.47,95.42 L610.46,95.42 L611.46,95.42 L612.45,95.42 L613.45,95.42 L614.44,95.42 L615.44,95.42 L616.43,95.41 L617.43,95.41 L618.42,95.41 L619.42,95.41 L620.41,95.41 L621.41,95.41 L622.40,95.41 L623.40,95.41 L624.39,95.41 L625.39,95.41 L626.38,95.40 L627.38,95.40 L628.37,95.40 L629.37,95.40 L630.36,95.40 L631.36,95.40 L632.35,95.40 L633.35,95.40 L634.34,95.40 L635.34,95.40 L636.33,95.40 L637.33,95.40 L638.32,95.40 L639.32,95.40 L640.31,95.40 L641.31,95.40 L642.30,95.39 L643.30,95.39 L644.29,95.39 L645.29,95.39 L646.28,95.39 L647.28,95.39 L648.27,95.39 L649.27,95.39 L650.26,95.39 L651.26,95.39 L652.25,95.39 L653.25,95.39 L654.24,95.39 L655.24,95.39 L656.23,95.39 L657.23,95.39 L658.22,95.39 L659.22,95.39 L660.21,95.39 L661.21,95.39 L662.20,95.39 L663.20,95.39 L664.19,95.39 L665.19,95.39 L666.18,95.39 L667.18,95.39 L668.17,95.39 L669.17,95.39 L670.16,95.39 L671.16,95.39 L672.15,95.39 L673.15,95.39 L674.14,95.39 L675.14,95.39 L676.13,95.39 L677.13,95.39 L678.12,95.39 L679.12,95.39 L680.11,95.39 L681.11,95.39 L682.10,95.39 L683.10,95.39 L684.09,95.39 L685.09,95.39 L686.08,95.39 L687.08,95.39 L688.07,95.39 L689.07,95.39 L690.06,95.39 L691.06,95.39" fill="none" stroke="#000000" stroke-width="3.3" stroke-linejoin="round" stroke-linecap="square"/>
<path d="M377.35,368.50 L377.63,363.95 L378.63,349.79 L379.62,338.00 L380.62,327.87 L381.61,318.95 L382.61,310.98 L383.60,303.75 L384.60,297.13 L385.59,291.01 L386.59,285.32 L387.58,279.99 L388.58,274.97 L389.57,270.24 L390.57,265.75 L391.56,261.47 L392.56,257.39 L393.55,253.49 L394.55,249.75 L395.54,246.16 L396.54,242.70 L397.53,239.37 L398.53,236.16 L399.52,233.05 L400.52,230.04 L401.51,227.13 L402.51,224.31 L403.50,221.58 L404.50,218.93 L405.49,216.35 L406.49,213.84 L407.48,211.41 L408.48,209.04 L409.47,206.73 L410.47,204.49 L411.46,202.31 L412.46,200.18 L413.45,198.11 L414.45,196.09 L415.44,194.12 L416.44,192.21 L417.43,190.34 L418.43,188.52 L419.42,186.74 L420.42,185.02 L421.41,183.33 L422.41,181.69 L423.40,180.09 L424.40,178.53 L425.39,177.01 L426.39,175.53 L427.38,174.09 L428.38,172.68 L429.37,171.31 L430.37,169.98 L431.36,168.68 L432.36,167.42 L433.35,166.19 L434.35,164.99 L435.34,163.83 L436.34,162.70 L437.33,161.59 L438.33,160.52 L439.32,159.48 L440.32,158.47 L441.31,157.48 L442.31,156.53 L443.30,155.60 L444.30,154.70 L445.29,153.82 L446.29,152.97 L447.28,152.14 L448.28,151.34 L449.27,150.56 L450.27,149.81 L451.26,149.08 L452.26,148.37 L453.25,147.68 L454.25,147.01 L455.24,146.36 L456.24,145.74 L457.23,145.13 L458.23,144.54 L459.22,143.97 L460.22,143.42 L461.21,142.89 L462.21,142.37 L463.20,141.87 L464.20,141.38 L465.19,140.92 L466.19,140.46 L467.18,140.02 L468.18,139.60 L469.17,139.19 L470.17,138.80 L471.16,138.41 L472.16,138.04 L473.15,137.68 L474.15,137.34 L475.14,137.01 L476.14,136.68 L477.13,136.37 L478.13,136.07 L479.12,135.78 L480.12,135.50 L481.11,135.23 L482.11,134.97 L483.10,134.72 L484.10,134.47 L485.09,134.24 L486.09,134.01 L487.08,133.79 L488.08,133.58 L489.07,133.38 L490.07,133.18 L491.06,132.99 L492.06,132.81 L493.05,132.63 L494.05,132.46 L495.04,132.30 L496.04,132.14 L497.03,131.99 L498.03,131.84 L499.02,131.70 L500.02,131.56 L501.01,131.43 L502.01,131.31 L503.00,131.18 L504.00,131.07 L504.99,130.95 L505.99,130.84 L506.98,130.74 L507.98,130.64 L508.97,130.54 L509.97,130.44 L510.96,130.35 L511.96,130.27 L512.95,130.18 L513.95,130.10 L514.94,130.02 L515.94,129.95 L516.93,129.87 L517.93,129.80 L518.92,129.74 L519.92,129.67 L520.91,129.61 L521.91,129.55 L522.90,129.49 L523.90,129.44 L524.89,129.38 L525.89,129.33 L526.88,129.28 L527.88,129.23 L528.87,129.19 L529.87,129.14 L530.86,129.10 L531.86,129.06 L532.85,129.02 L533.85,128.98 L534.84,128.94 L535.84,128.91 L536.83,128.87 L537.83,128.84 L538.82,128.81 L539.82,128.78 L540.81,128.75 L541.81,128.72 L542.80,128.70 L543.80,128.67 L544.79,128.64 L545.79,128.62 L546.78,128.60 L547.78,128.57 L548.77,128.55 L549.77,128.53 L550.76,128.51 L551.76,128.49 L552.75,128.47 L553.75,128.46 L554.74,128.44 L555.74,128.42 L556.73,128.41 L557.73,128.39 L558.72,128.38 L559.72,128.36 L560.71,128.35 L561.71,128.34 L562.70,128.32 L563.70,128.31 L564.69,128.30 L565.69,128.29 L566.68,128.28 L567.68,128.27 L568.67,128.26 L569.67,128.25 L570.66,128.24 L571.66,128.23 L572.65,128.22 L573.65,128.21 L574.64,128.20 L575.64,128.20 L576.63,128.19 L577.63,128.18 L578.62,128.17 L579.62,128.17 L580.61,128.16 L581.61,128.16 L582.60,128.15 L583.60,128.14 L584.59,128.14 L585.59,128.13 L586.58,128.13 L587.58,128.12 L588.57,128.12 L589.57,128.11 L590.56,128.11 L591.56,128.11 L592.55,128.10 L593.55,128.10 L594.54,128.09 L595.54,128.09 L596.53,128.09 L597.53,128.08 L598.52,128.08 L599.52,128.08 L600.51,128.07 L601.51,128.07 L602.50,128.07 L603.50,128.07 L604.49,128.06 L605.49,128.06 L606.48,128.06 L607.48,128.06 L608.47,128.05 L609.47,128.05 L610.46,128.05 L611.46,128.05 L612.45,128.05 L613.45,128.04 L614.44,128.04 L615.44,128.04 L616.43,128.04 L617.43,128.04 L618.42,128.04 L619.42,128.04 L620.41,128.03 L621.41,128.03 L622.40,128.03 L623.40,128.03 L624.39,128.03 L625.39,128.03 L626.38,128.03 L627.38,128.03 L628.37,128.02 L629.37,128.02 L630.36,128.02 L631.36,128.02 L632.35,128.02 L633.35,128.02 L634.34,128.02 L635.34,128.02 L636.33,128.02 L637.33,128.02 L638.32,128.02 L639.32,128.02 L640.31,128.02 L641.31,128.01 L642.30,128.01 L643.30,128.01 L644.29,128.01 L645.29,128.01 L646.28,128.01 L647.28,128.01 L648.27,128.01 L649.27,128.01 L650.26,128.01 L651.26,128.01 L652.25,128.01 L653.25,128.01 L654.24,128.01 L655.24,128.01 L656.23,128.01 L657.23,128.01 L658.22,128.01 L659.22,128.01 L660.21,128.01 L661.21,128.01 L662.20,128.01 L663.20,128.01 L664.19,128.01 L665.19,128.01 L666.18,128.01 L667.18,128.00 L668.17,128.00 L669.17,128.00 L670.16,128.00 L671.16,128.00 L672.15,128.00 L673.15,128.00 L674.14,128.00 L675.14,128.00 L676.13,128.00 L677.13,128.00 L678.12,128.00 L679.12,128.00 L680.11,128.00 L681.11,128.00 L682.10,128.00 L683.10,128.00 L684.09,128.00 L685.09,128.00 L686.08,128.00 L687.08,128.00 L688.07,128.00 L689.07,128.00 L690.06,128.00 L691.06,128.00" fill="none" stroke="#ff0000" stroke-width="3.3" stroke-linejoin="round" stroke-linecap="square"/>
<path d="M436.30,368.50 L436.34,367.32 L437.33,342.45 L438.33,325.06 L439.32,311.74 L440.32,300.98 L441.31,291.99 L442.31,284.29 L443.30,277.58 L444.30,271.66 L445.29,266.36 L446.29,261.59 L447.28,257.26 L448.28,253.30 L449.27,249.66 L450.27,246.31 L451.26,243.21 L452.26,240.32 L453.25,237.64 L454.25,235.13 L455.24,232.78 L456.24,230.57 L457.23,228.50 L458.23,226.54 L459.22,224.70 L460.22,222.96 L461.21,221.32 L462.21,219.76 L463.20,218.28 L464.20,216.88 L465.19,215.55 L466.19,214.29 L467.18,213.09 L468.18,211.95 L469.17,210.86 L470.17,209.82 L471.16,208.83 L472.16,207.89 L473.15,206.99 L474.15,206.13 L475.14,205.31 L476.14,204.52 L477.13,203.77 L478.13,203.05 L479.12,202.37 L480.12,201.71 L481.11,201.08 L482.11,200.48 L483.10,199.91 L484.10,199.35 L485.09,198.82 L486.09,198.32 L487.08,197.83 L488.08,197.37 L489.07,196.92 L490.07,196.49 L491.06,196.08 L492.06,195.69 L493.05,195.31 L494.05,194.95 L495.04,194.60 L496.04,194.27 L497.03,193.95 L498.03,193.64 L499.02,193.34 L500.02,193.06 L501.01,192.79 L502.01,192.53 L503.00,192.27 L504.00,192.03 L504.99,191.80 L505.99,191.58 L506.98,191.36 L507.98,191.16 L508.97,190.96 L509.97,190.77 L510.96,190.59 L511.96,190.41 L512.95,190.24 L513.95,190.08 L514.94,189.93 L515.94,189.78 L516.93,189.63 L517.93,189.50 L518.92,189.36 L519.92,189.23 L520.91,189.11 L521.91,188.99 L522.90,188.88 L523.90,188.77 L524.89,188.67 L525.89,188.56 L526.88,188.47 L527.88,188.37 L528.87,188.28 L529.87,188.20 L530.86,188.11 L531.86,188.03 L532.85,187.96 L533.85,187.88 L534.84,187.81 L535.84,187.74 L536.83,187.68 L537.83,187.61 L538.82,187.55 L539.82,187.49 L540.81,187.44 L541.81,187.38 L542.80,187.33 L543.80,187.28 L544.79,187.23 L545.79,187.19 L546.78,187.14 L547.78,187.10 L548.77,187.06 L549.77,187.02 L550.76,186.98 L551.76,186.94 L552.75,186.91 L553.75,186.87 L554.74,186.84 L555.74,186.81 L556.73,186.78 L557.73,186.75 L558.72,186.72 L559.72,186.69 L560.71,186.67 L561.71,186.64 L562.70,186.62 L563.70,186.60 L564.69,186.57 L565.69,186.55 L566.68,186.53 L567.68,186.51 L568.67,186.49 L569.67,186.47 L570.66,186.46 L571.66,186.44 L572.65,186.42 L573.65,186.41 L574.64,186.39 L575.64,186.38 L576.63,186.36 L577.63,186.35 L578.62,186.34 L579.62,186.32 L580.61,186.31 L581.61,186.30 L582.60,186.29 L583.60,186.28 L584.59,186.27 L585.59,186.26 L586.58,186.25 L587.58,186.24 L588.57,186.23 L589.57,186.22 L590.56,186.21 L591.56,186.21 L592.55,186.20 L593.55,186.19 L594.54,186.18 L595.54,186.18 L596.53,186.17 L597.53,186.16 L598.52,186.16 L599.52,186.15 L600.51,186.15 L601.51,186.14 L602.50,186.14 L603.50,186.13 L604.49,186.13 L605.49,186.12 L606.48,186.12 L607.48,186.11 L608.47,186.11 L609.47,186.11 L610.46,186.10 L611.46,186.10 L612.45,186.09 L613.45,186.09 L614.44,186.09 L615.44,186.08 L616.43,186.08 L617.43,186.08 L618.42,186.08 L619.42,186.07 L620.41,186.07 L621.41,186.07 L622.40,186.07 L623.40,186.06 L624.39,186.06 L625.39,186.06 L626.38,186.06 L627.38,186.06 L628.37,186.05 L629.37,186.05 L630.36,186.05 L631.36,186.05 L632.35,186.05 L633.35,186.04 L634.34,186.04 L635.34,186.04 L636.33,186.04 L637.33,186.04 L638.32,186.04 L639.32,186.04 L640.31,186.04 L641.31,186.03 L642.30,186.03 L643.30,186.03 L644.29,186.03 L645.29,186.03 L646.28,186.03 L647.28,186.03 L648.27,186.03 L649.27,186.03 L650.26,186.03 L651.26,186.02 L652.25,186.02 L653.25,186.02 L654.24,186.02 L655.24,186.02 L656.23,186.02 L657.23,186.02 L658.22,186.02 L659.22,186.02 L660.21,186.02 L661.21,186.02 L662.20,186.02 L663.20,186.02 L664.19,186.02 L665.19,186.02 L666.18,186.02 L667.18,186.02 L668.17,186.01 L669.17,186.01 L670.16,186.01 L671.16,186.01 L672.15,186.01 L673.15,186.01 L674.14,186.01 L675.14,186.01 L676.13,186.01 L677.13,186.01 L678.12,186.01 L679.12,186.01 L680.11,186.01 L681.11,186.01 L682.10,186.01 L683.10,186.01 L684.09,186.01 L685.09,186.01 L686.08,186.01 L687.08,186.01 L688.07,186.01 L689.07,186.01 L690.06,186.01 L691.06,186.01" fill="none" stroke="#006028" stroke-width="3.3" stroke-linejoin="round" stroke-linecap="square"/>
<path d="M185.1,79.8 L186.1,84.6 L187.1,89.5 L188.1,94.3 L189.2,99.1 L190.3,103.9 L191.5,108.7 L192.7,113.4 L194.0,118.2 L195.3,122.9 L196.7,127.6 L198.2,132.2 L199.8,136.8 L201.4,141.4 L203.1,146.0 L205.0,150.5 L206.9,154.9 L208.8,159.3 L210.9,163.7 L213.1,168.0 L215.5,172.3 L217.9,176.5 L220.4,180.6 L223.0,184.7 L225.8,188.8 L228.6,192.7 L231.5,196.7 L234.5,200.5 L237.6,204.3 L240.7,208.1 L244.0,211.8 L247.3,215.5 L250.6,219.1 L254.1,222.6 L257.6,226.1 L261.2,229.5 L264.8,232.9 L268.5,236.2 L272.2,239.5 L276.0,242.7 L279.8,245.9 L283.6,249.0 L287.5,252.0 L291.4,255.0 L295.3,258.0 L299.3,260.8 L303.3,263.7 L307.3,266.4 L311.4,269.1 L315.5,271.7 L319.6,274.2 L323.8,276.7 L328.0,279.0 L332.3,281.2 L336.7,283.3 L341.1,285.3 L345.6,287.1 L350.1,288.8 L354.7,290.4 L359.4,291.9 L364.0,293.4 L368.8,294.7 L373.5,296.0 L378.3,297.3 L383.1,298.5 L387.9,299.6 L392.6,300.8 L397.4,302.0 L402.2,303.1 L406.9,304.3" fill="none" stroke="#000" stroke-width="1.3" stroke-linejoin="round"/>
<path d="M399.5,297.4 L406.1,304.1 L397.2,306.9" fill="none" stroke="#000" stroke-width="1.9" stroke-linejoin="round" stroke-linecap="butt"/>
<text transform="translate(133.90,393.4) scale(1,1.03)" font-size="22" text-anchor="middle">0.01</text>
<text transform="translate(253.30,393.4) scale(1,1.03)" font-size="22" text-anchor="middle">0.10</text>
<text transform="translate(370.60,393.4) scale(1,1.03)" font-size="22" text-anchor="middle">1</text>
<text transform="translate(490.90,393.4) scale(1,1.03)" font-size="22" text-anchor="middle">10</text>
<text transform="translate(611.30,393.4) scale(1,1.03)" font-size="22" text-anchor="middle">100</text>
<text transform="translate(88.3,18.22) scale(1,1.03)" font-size="22" text-anchor="end">0.5</text>
<text transform="translate(86.8,117.40) scale(1,1.03)" font-size="22" text-anchor="end">0.1</text>
<text transform="translate(85.5,160.12) scale(1,1.03)" font-size="22" text-anchor="end">0.05</text>
<text transform="translate(88.3,259.30) scale(1,1.03)" font-size="22" text-anchor="end">0.01</text>
<text transform="translate(88.3,302.02) scale(1,1.03)" font-size="22" text-anchor="end">0.005</text>
<text class="s" transform="translate(263.5,429) scale(0.982,1)" font-size="30">Oscillation</text>
<text class="s" transform="translate(400.7,429) scale(0.979,1)" font-size="30">frequency:</text>
<text class="s" transform="translate(534.7,428.6) scale(0.98,1)" font-size="35">ωτ</text>
<text class="s" transform="translate(572.0,432.6)" font-size="21">0</text>
<text class="s" transform="translate(27.9,320.3) rotate(-90) scale(0.974,1.04)" font-size="30">Storage modulus:</text>
<text class="s" transform="translate(27.9,106.1) rotate(-90) scale(1,1.06)" font-size="33" font-style="italic">G</text>
<polygon points="1.5,74.9 1.7,78.4 10.6,80.5 10.8,78.9" fill="#000"/>
<text class="s" transform="translate(27.9,74.4) rotate(-90) scale(1,1.06)" font-size="33" font-style="italic">/G</text>
<text class="s" transform="translate(35.0,41.0) rotate(-90) scale(1,1.05)" font-size="21.5">0</text>
</svg></body></html>
